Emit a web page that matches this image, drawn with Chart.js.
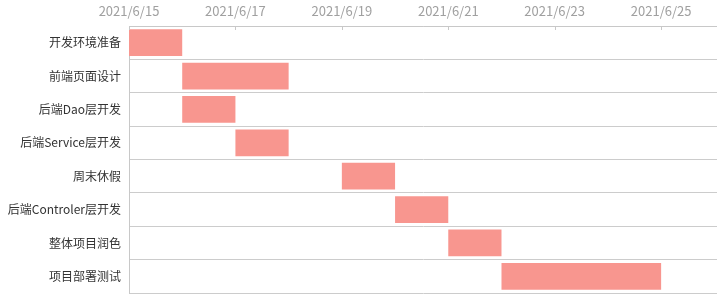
<!DOCTYPE html>
<html lang="zh">
<head>
  <meta charset="UTF-8">
  <title>项目甘特图</title>
  <style>
    html, body { margin: 0; padding: 0; background: #fff; }
    #wrap { width: 717px; height: 294px; }
  </style>
  <script src="https://cdn.jsdelivr.net/npm/chart.js"></script>
</head>
<body>
  <div id="wrap"><canvas id="gantt"></canvas></div>
  <script>
    // 任务及起止日期
    const tasks = ['开发环境准备', '前端页面设计', '后端Dao层开发', '后端Service层开发',
                   '周末休假', '后端Controler层开发', '整体项目润色', '项目部署测试'];
    const startDates = ['2021/6/15', '2021/6/16', '2021/6/16', '2021/6/17',
                        '2021/6/19', '2021/6/20', '2021/6/21', '2021/6/22'];
    const endDates = ['2021/6/16', '2021/6/18', '2021/6/17', '2021/6/18',
                      '2021/6/20', '2021/6/21', '2021/6/22', '2021/6/25'];
    const tickDates = ['2021/6/15', '2021/6/17', '2021/6/19', '2021/6/21', '2021/6/23', '2021/6/25'];
    const axisStart = '2021/6/15';
    const axisEnd = '2021/6/26';

    function toDay(s) {
      const [y, m, d] = s.split('/').map(Number);
      return Date.UTC(y, m - 1, d) / 86400000;
    }
    const base = toDay(axisStart);
    const off = s => toDay(s) - base;
    const labelFor = v => {
      const d = new Date((base + v) * 86400000);
      return d.getUTCFullYear() + '/' + (d.getUTCMonth() + 1) + '/' + d.getUTCDate();
    };

    const FONT = '"Noto Sans CJK SC", "Microsoft YaHei", sans-serif';

    // 顶部坐标轴的小刻度（向内）
    const innerTicks = {
      id: 'innerTicks',
      afterDraw(chart) {
        const x = chart.scales.x, ctx = chart.ctx;
        ctx.save();
        ctx.strokeStyle = '#c8c8c8';
        ctx.lineWidth = 1;
        x.ticks.forEach(t => {
          const px = Math.round(x.getPixelForValue(t.value)) + 0.5;
          ctx.beginPath();
          ctx.moveTo(px, x.bottom);
          ctx.lineTo(px, x.bottom + 4);
          ctx.stroke();
        });
        ctx.restore();
      }
    };

    new Chart(document.getElementById('gantt'), {
      type: 'bar',
      data: {
        labels: tasks,
        datasets: [{
          data: tasks.map((t, i) => [off(startDates[i]), off(endDates[i])]),
          backgroundColor: '#f8968f',
          borderWidth: 0,
          barPercentage: 0.8,
          categoryPercentage: 1
        }]
      },
      options: {
        indexAxis: 'y',
        responsive: true,
        maintainAspectRatio: false,
        animation: false,
        layout: { padding: { top: 4, right: 0, bottom: 1, left: 0 } },
        plugins: { legend: { display: false }, tooltip: { enabled: false } },
        scales: {
          x: {
            position: 'top',
            min: 0,
            max: off(axisEnd) + 0.05,
            afterBuildTicks: s => { s.ticks = tickDates.map(d => ({ value: off(d) })); },
            afterFit: s => { s.height = 22; },
            grid: { display: false, drawTicks: false },
            border: { display: true, color: '#c8c8c8' },
            ticks: {
              padding: 7,
              maxRotation: 0,
              color: '#a0a0a0',
              font: { family: FONT, size: 13 },
              callback: v => labelFor(v)
            }
          },
          y: {
            afterFit: s => { s.width = 129; s.paddingTop = 0; s.paddingBottom = 0; },
            grid: { color: '#cccccc', drawTicks: false, offset: true },
            border: { display: true, color: '#c8c8c8' },
            ticks: {
              padding: 8,
              color: '#333',
              font: { family: FONT, size: 12 }
            }
          }
        }
      },
      plugins: [innerTicks]
    });
  </script>
</body>
</html>
